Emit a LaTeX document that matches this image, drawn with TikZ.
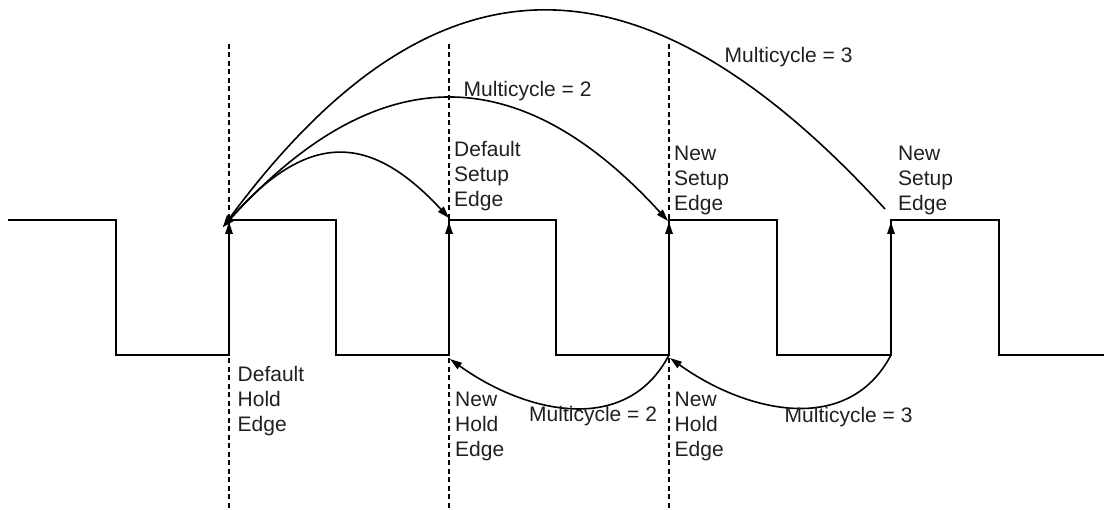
\documentclass[tikz,border=0pt]{standalone}
\usepackage{fontspec}
\setmainfont{Liberation Sans}
\usetikzlibrary{arrows.meta}
\definecolor{inkgray}{RGB}{35,31,32}
\tikzset{
  wave/.style={line width=1.7pt, line join=miter},
  guide/.style={line width=1.6pt, dash pattern=on 5pt off 3.5pt},
  span/.style={line width=1.6pt},
  tip/.style={-{Triangle[length=12pt,width=7.5pt]}},
  lbl/.style={anchor=base west, inner sep=0pt, align=left, text=inkgray,
              font=\fontsize{21}{25}\selectfont}
}
\begin{document}
\begin{tikzpicture}[x=1pt,y=-1pt]
\useasboundingbox (0,0) rectangle (1104,510);

% clock levels
\def\hi{220}
\def\lo{355}

% waveform corners
\coordinate (w0) at (8,\hi);
\coordinate (f1t) at (116,\hi);  \coordinate (f1b) at (116,\lo);
\coordinate (r1b) at (229,\lo);  \coordinate (r1t) at (229,\hi);
\coordinate (f2t) at (336,\hi);  \coordinate (f2b) at (336,\lo);
\coordinate (r2b) at (449,\lo);  \coordinate (r2t) at (449,\hi);
\coordinate (f3t) at (556,\hi);  \coordinate (f3b) at (556,\lo);
\coordinate (r3b) at (669,\lo);  \coordinate (r3t) at (669,\hi);
\coordinate (f4t) at (777,\hi);  \coordinate (f4b) at (777,\lo);
\coordinate (r4b) at (891,\lo);  \coordinate (r4t) at (891,\hi);
\coordinate (f5t) at (999,\hi);  \coordinate (f5b) at (999,\lo);
\coordinate (wend) at (1104,\lo);

% dashed guides through the rising edges
\foreach \x/\n in {229/g1,449/g2,669/g3}{
  \coordinate (\n top) at (\x,44);
  \coordinate (\n bot) at (\x,508);
  \draw[guide] (\n top) -- (\n bot);
}

% clock
\draw[wave] (w0) -- (f1t) -- (f1b) -- (r1b) -- (r1t) -- (f2t) -- (f2b)
  -- (r2b) -- (r2t) -- (f3t) -- (f3b) -- (r3b) -- (r3t) -- (f4t) -- (f4b)
  -- (r4b) -- (r4t) -- (f5t) -- (f5b) -- (wend);

% launch / capture arrows on the rising edges
\foreach \n in {1,2,3,4}{
  \draw[wave, tip, shorten >=2pt] (r\n b) -- (r\n t);
}

% arc end points
\coordinate (src) at (223,227);
\coordinate (dset) at (449,218);
\coordinate (nset2) at (668,221);
\coordinate (nset3) at (885,209);
\coordinate (h2from) at (669,355);
\coordinate (h2to) at (450,359);
\coordinate (h3from) at (891,355);
\coordinate (h3to) at (670,358);

% setup relationships
\draw[span, {Triangle[length=12pt,width=7.5pt]}-{Triangle[length=12pt,width=7.5pt]}]
  (src) .. controls (310,128) and (372,135) .. (dset);
\draw[span, {Triangle[length=12pt,width=7.5pt]}-{Triangle[length=12pt,width=7.5pt]}]
  (src) .. controls (380,54) and (522,61) .. (nset2);
\draw[span, {Triangle[length=12pt,width=7.5pt]}-]
  (src) .. controls (440,-66) and (648,-50) .. (nset3);

% hold relationships
\draw[span, tip] (h2from) .. controls (626.1,437) and (524.9,413) .. (h2to);
\draw[span, tip] (h3from) .. controls (848,437) and (745,412) .. (h3to);

% labels (multi-line ones are placed by the baseline of their last line)
\node[lbl] (dse)  at (454,207)   {Default\\Setup\\Edge};
\node[lbl] (nse1) at (674,211)   {New\\Setup\\Edge};
\node[lbl] (nse2) at (898,211)   {New\\Setup\\Edge};
\node[lbl] (dhe)  at (237.5,431.7) {Default\\Hold\\Edge};
\node[lbl] (nhe1) at (455,456.7) {New\\Hold\\Edge};
\node[lbl] (nhe2) at (674.5,457) {New\\Hold\\Edge};
\node[lbl] (mc2t) at (463.5,96.7) {Multicycle = 2};
\node[lbl] (mc3t) at (724.5,63)  {Multicycle = 3};
\node[lbl] (mc2b) at (529,421.7) {Multicycle = 2};
\node[lbl] (mc3b) at (784.5,423) {Multicycle = 3};
\end{tikzpicture}
\end{document}
